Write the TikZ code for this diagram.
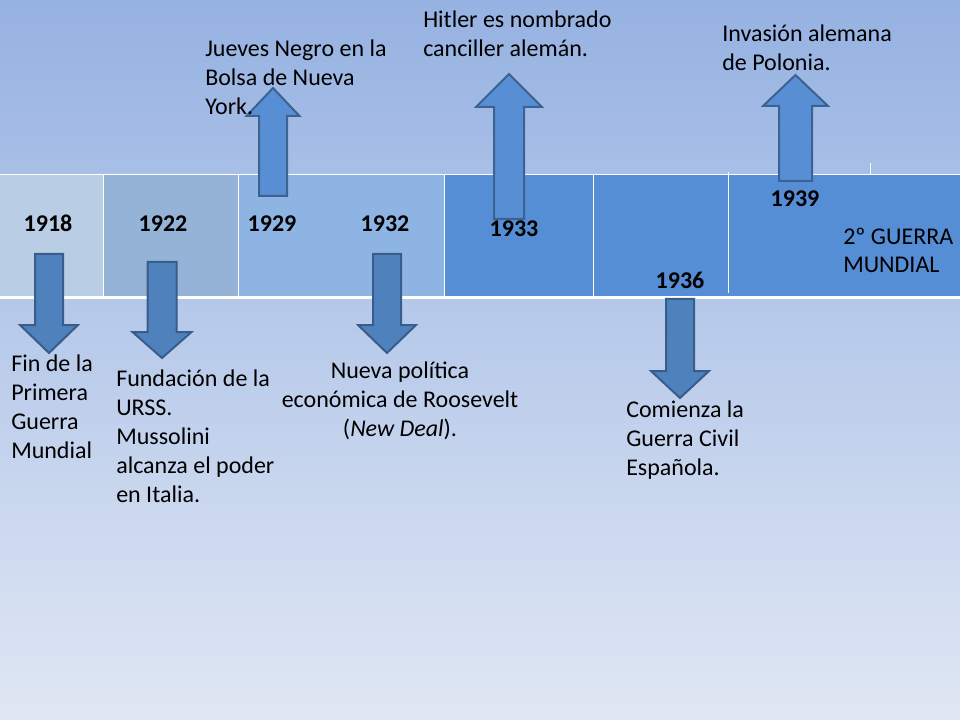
\documentclass[tikz,border=0pt]{standalone}
\usepackage{fontspec}
\setmainfont{Carlito}
\definecolor{fondoarriba}{RGB}{150,178,226}
\definecolor{fondoabajo}{RGB}{224,231,244}
\definecolor{tramoa}{RGB}{185,205,229}
\definecolor{tramob}{RGB}{149,179,215}
\definecolor{tramoc}{RGB}{142,180,227}
\definecolor{tramod}{RGB}{85,142,213}
\definecolor{flechaosc}{RGB}{79,129,189}
\definecolor{flechacla}{RGB}{88,143,212}
\definecolor{bordeflecha}{RGB}{56,93,138}
\tikzset{
  texto/.style={inner sep=0pt, align=left, font=\fontsize{18}{21.75}\selectfont},
  anio/.style={inner sep=0pt, anchor=base, font=\fontsize{18}{21.75}\selectfont\bfseries},
  flechabajo/.style={fill=flechaosc, draw=bordeflecha, line width=1.5pt, line join=miter},
  flecharriba/.style={fill=flechacla, draw=bordeflecha!90!flechacla, line width=1.5pt, line join=miter},
  separador/.style={white, line width=0.75pt}
}
% x, y of shaft end, y of head base, y of tip, half shaft, half head
\newcommand{\flecha}[7]{%
  \draw[#1] (#2-#6,#3) -- (#2+#6,#3) -- (#2+#6,#4) -- (#2+#7,#4) -- (#2,#5)
    -- (#2-#7,#4) -- (#2-#6,#4) -- cycle;}
\begin{document}
\begin{tikzpicture}[x=0.75pt, y=-0.75pt]
    \useasboundingbox (0,0) rectangle (960,720);
    \shade[top color=fondoarriba, bottom color=fondoabajo] (0,0) rectangle (960,720);

    % the timeline band
    \fill[tramoa] (0,175) rectangle (103,297);
    \fill[tramob] (103,175) rectangle (238,297);
    \fill[tramoc] (238,175) rectangle (444,297);
    \fill[tramod] (444,175) rectangle (960,297);
    \draw[separador] (0,175) -- (960,175);
    \draw[white, line width=2.25pt] (0,298) -- (960,298);
    \foreach \x in {103,238,444,593}
        \draw[separador] (\x,175) -- (\x,296);
    \draw[separador] (728,172) -- (728,293);
    \draw[separador] (870,163) -- (870,175);

    % arrows
    \flecha{flechabajo}{49}{254}{325}{353}{14}{29}
    \flecha{flechabajo}{162}{262}{332}{358}{14.5}{29.5}
    \flecha{flechabajo}{387}{254}{325}{353}{14}{29}
    \flecha{flechabajo}{680}{299}{371}{398}{14}{29}
    \flecha{flecharriba}{273}{196}{116}{88}{14}{26.5}
    \flecha{flecharriba}{509}{219}{107}{74}{15}{33}
    \flecha{flecharriba}{795.5}{181}{106}{75}{16.5}{32.5}

    % years
    \node[anio] (a1918) at (48,232) {1918};
    \node[anio] (a1922) at (163,232) {1922};
    \node[anio] (a1929) at (272,232) {1929};
    \node[anio] (a1932) at (385,232) {1932};
    \node[anio] (a1933) at (514,237) {1933};
    \node[anio] (a1936) at (680,288) {1936};
    \node[anio] (a1939) at (795,207) {1939};
    \node[texto, anchor=base west, font=\fontsize{18}{21}\selectfont] (guerra) at (843,273) {2º GUERRA\\MUNDIAL};

    % events (anchored at the baseline of their last line)
    \node[texto, anchor=base west] (t1918) at (11,458) {Fin de la\\Primera\\Guerra\\Mundial};
    \node[texto, anchor=base west] (t1922) at (116,502) {Fundación de la\\URSS.\\Mussolini\\alcanza el poder\\en Italia.};
    \node[texto, anchor=base, align=center] (t1932) at (400,436) {Nueva política\\económica de Roosevelt\\(\textit{New Deal}).};
    \node[texto, anchor=base west] (t1936) at (626,475) {Comienza la\\Guerra Civil\\Española.};
    \node[texto, anchor=base west] (t1929) at (205,115) {Jueves Negro en la\\Bolsa de Nueva\\York.};
    \node[texto, anchor=base west] (t1933) at (423,57) {Hitler es nombrado\\canciller alemán.};
    \node[texto, anchor=base west] (t1939) at (722,71) {Invasión alemana\\de Polonia.};
\end{tikzpicture}
\end{document}
